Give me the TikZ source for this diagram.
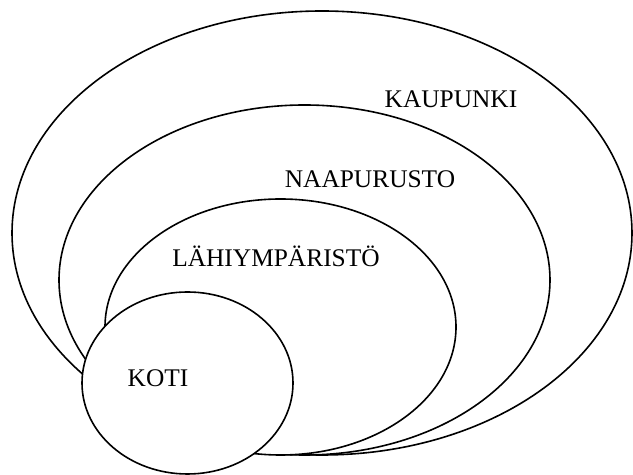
\documentclass[tikz,border=0pt]{standalone}
\usepackage{fontspec}
\setmainfont{Liberation Serif}
\usepackage{xcolor}
\usetikzlibrary{positioning, shapes.geometric}
\definecolor{ink}{HTML}{000000}
\tikzset{
  zone/.style={ellipse, draw=ink, line width=0.8pt, fill=white, inner sep=0pt},
  zonelabel/.style={anchor=base, text=ink, inner sep=0pt, font=\fontsize{12.7}{15}\selectfont}
}

\begin{document}
\begin{tikzpicture}[x=0.5pt, y=-0.5pt]
  \useasboundingbox (0,0) rectangle (633,475);

  % from the city down to home, each drawn over the last
  \foreach \name/\cx/\cy/\rx/\ry in {
    kaupunki/322/233/310/222,
    naapurusto/304.5/280/245.5/175,
    lahi/280.5/327/175.5/128,
    koti/187.5/383/105.5/91}
  {
    \node[zone, minimum width=\rx pt, minimum height=\ry pt] (\name) at (\cx,\cy) {};
  }

  \node[zonelabel] (kaupunkiText)   at (451,108) {KAUPUNKI};
  \node[zonelabel] (naapurustoText) at (370,188) {NAAPURUSTO};
  \node[zonelabel] (lahiText)       at (276,267) {LÄHIYMPÄRISTÖ};
  \node[zonelabel] (kotiText)       at (158,387) {KOTI};
\end{tikzpicture}
\end{document}
